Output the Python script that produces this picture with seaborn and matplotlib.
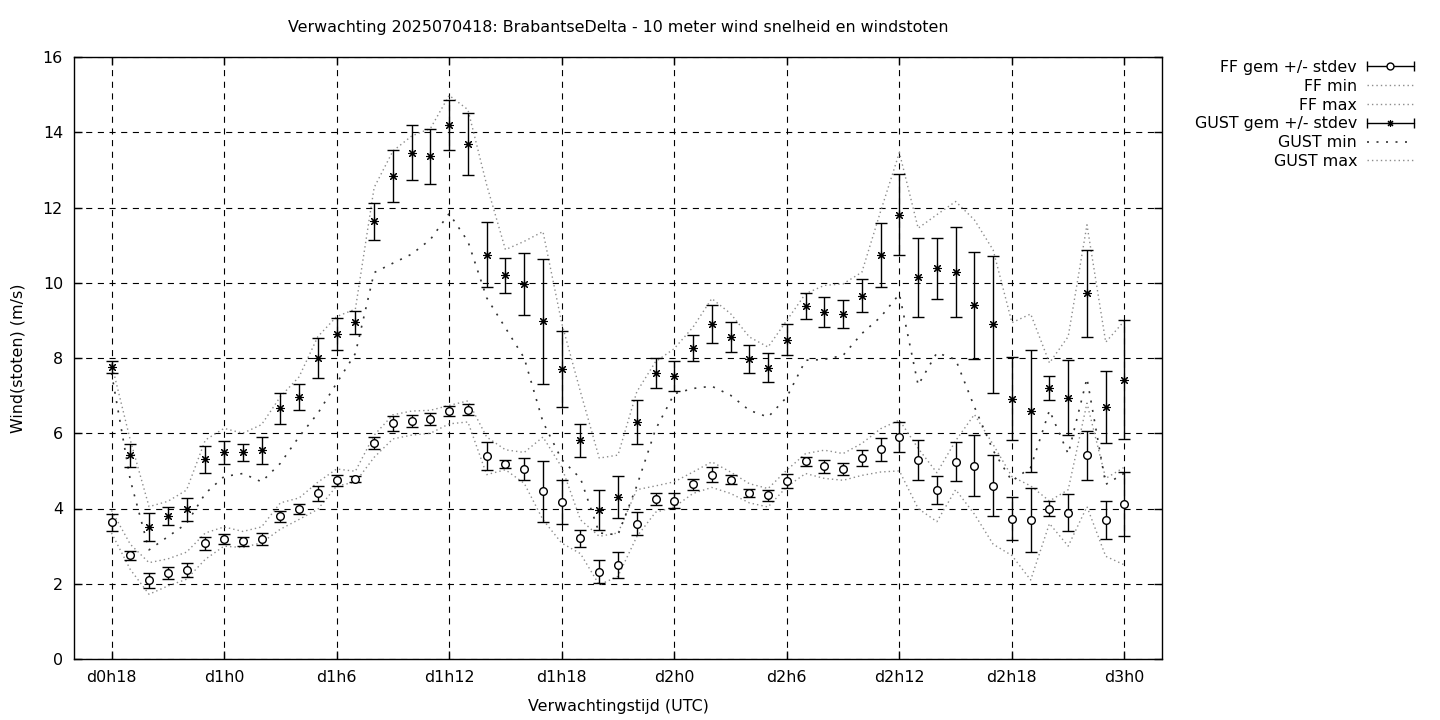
import numpy as np
import pandas as pd
import matplotlib
matplotlib.use("Agg")
import matplotlib.pyplot as plt
import seaborn as sns
from matplotlib.lines import Line2D
from matplotlib.legend_handler import HandlerLine2D

# forecast hours (hours since d0h0)
hours = [18, 19, 20, 21, 22, 23, 24, 25, 26, 27, 28, 29, 30, 31, 32, 33, 34, 35, 36,
         37, 38, 39, 40, 41, 42, 43, 44, 45, 46, 47, 48, 49, 50, 51, 52, 53, 54, 55,
         56, 57, 58, 59, 60, 61, 62, 63, 64, 65, 66, 67, 68, 69, 70, 71, 72]

ff_mean = [3.63, 2.76, 2.09, 2.28, 2.37, 3.07, 3.18, 3.13, 3.20, 3.79, 3.98, 4.40, 4.75, 4.78,
           5.74, 6.27, 6.33, 6.38, 6.59, 6.63, 5.39, 5.18, 5.05, 4.46, 4.18, 3.21, 2.32, 2.50,
           3.60, 4.25, 4.21, 4.64, 4.90, 4.77, 4.42, 4.35, 4.74, 5.25, 5.12, 5.06, 5.34, 5.57,
           5.90, 5.29, 4.50, 5.24, 5.14, 4.61, 3.73, 3.70, 4.00, 3.89, 5.41, 3.70, 4.13]
ff_std = [0.23, 0.12, 0.19, 0.16, 0.19, 0.18, 0.13, 0.12, 0.16, 0.14, 0.13, 0.20, 0.15, 0.08,
          0.15, 0.20, 0.16, 0.15, 0.14, 0.14, 0.37, 0.10, 0.28, 0.81, 0.58, 0.22, 0.31, 0.34,
          0.30, 0.16, 0.19, 0.14, 0.19, 0.12, 0.11, 0.14, 0.19, 0.12, 0.18, 0.16, 0.22, 0.31,
          0.41, 0.52, 0.37, 0.52, 0.81, 0.82, 0.57, 0.85, 0.21, 0.49, 0.66, 0.50, 0.85]
ff_min = [3.35, 2.38, 1.72, 1.94, 2.12, 2.65, 3.00, 2.96, 3.09, 3.45, 3.71, 3.98, 4.60, 4.70,
          5.36, 5.85, 5.95, 6.00, 6.25, 6.30, 4.90, 5.03, 4.67, 3.70, 3.08, 2.80, 1.97, 2.20,
          3.25, 3.90, 4.04, 4.40, 4.56, 4.40, 4.15, 4.04, 4.58, 4.93, 4.80, 4.75, 4.88, 4.97,
          5.00, 4.00, 3.65, 4.50, 3.85, 3.05, 2.75, 2.10, 3.60, 3.00, 4.05, 2.73, 2.50]
ff_max = [3.95, 3.05, 2.56, 2.66, 2.84, 3.35, 3.51, 3.39, 3.51, 4.15, 4.28, 4.70, 5.05, 4.99,
          5.95, 6.49, 6.59, 6.61, 6.74, 6.86, 5.90, 5.56, 5.49, 5.90, 5.10, 3.70, 3.26, 3.35,
          4.50, 4.60, 4.71, 4.97, 5.24, 4.97, 4.66, 4.53, 5.02, 5.46, 5.55, 5.46, 5.73, 6.12,
          6.35, 5.60, 4.95, 5.80, 6.50, 5.70, 4.85, 4.60, 4.20, 4.50, 6.80, 4.80, 5.10]

gust_mean = [7.75, 5.41, 3.50, 3.79, 3.98, 5.31, 5.49, 5.49, 5.55, 6.66, 6.96, 7.99, 8.64, 8.95,
             11.63, 12.84, 13.46, 13.36, 14.19, 13.68, 10.75, 10.20, 9.97, 8.98, 7.71, 5.81,
             3.97, 4.31, 6.30, 7.59, 7.52, 8.27, 8.90, 8.56, 7.98, 7.74, 8.49, 9.38, 9.23, 9.17,
             9.66, 10.74, 11.81, 10.14, 10.38, 10.28, 9.40, 8.90, 6.92, 6.60, 7.20, 6.95, 9.72,
             6.70, 7.42]
gust_std = [0.16, 0.31, 0.37, 0.24, 0.31, 0.36, 0.31, 0.23, 0.36, 0.41, 0.35, 0.53, 0.42, 0.30,
            0.50, 0.69, 0.73, 0.73, 0.66, 0.82, 0.87, 0.46, 0.82, 1.66, 1.01, 0.44, 0.53, 0.56,
            0.58, 0.40, 0.39, 0.35, 0.50, 0.41, 0.37, 0.39, 0.41, 0.35, 0.40, 0.38, 0.43, 0.86,
            1.08, 1.05, 0.81, 1.19, 1.42, 1.82, 1.10, 1.62, 0.31, 1.00, 1.16, 0.96, 1.58]
gust_min = [7.60, 4.76, 2.90, 3.25, 3.60, 4.40, 4.85, 4.93, 4.71, 5.20, 5.91, 6.53, 7.33, 8.12,
            10.27, 10.52, 10.76, 11.15, 11.84, 11.10, 9.60, 8.80, 8.00, 6.30, 5.30, 4.80, 3.35,
            3.30, 4.60, 6.10, 7.05, 7.19, 7.25, 7.01, 6.61, 6.43, 6.96, 7.94, 7.96, 8.07, 8.65,
            9.09, 9.70, 7.28, 8.14, 7.96, 6.70, 5.54, 4.73, 5.09, 6.61, 5.45, 7.46, 4.64, 4.94]
gust_max = [7.85, 5.82, 4.05, 4.19, 4.49, 5.82, 6.13, 6.00, 6.23, 6.97, 7.50, 8.57, 9.10, 9.30,
            12.53, 13.50, 13.90, 14.10, 14.98, 14.60, 12.60, 10.88, 11.10, 11.36, 8.93, 7.10,
            5.34, 5.42, 7.10, 7.90, 8.25, 8.82, 9.58, 9.18, 8.56, 8.29, 9.00, 9.71, 9.93, 9.97,
            10.28, 11.90, 13.46, 11.45, 11.81, 12.16, 11.67, 10.87, 8.94, 9.17, 7.87, 8.57,
            11.54, 8.42, 8.99]

tick_hours = [18, 24, 30, 36, 42, 48, 54, 60, 66, 72]
tick_labels = ["d0h18", "d1h0", "d1h6", "d1h12", "d1h18", "d2h0", "d2h6", "d2h12", "d2h18", "d3h0"]

df = pd.DataFrame({"hour": hours,
                   "ff_mean": ff_mean, "ff_std": ff_std, "ff_min": ff_min, "ff_max": ff_max,
                   "gust_mean": gust_mean, "gust_std": gust_std,
                   "gust_min": gust_min, "gust_max": gust_max})

sns.set_style("ticks")
plt.rcParams["font.family"] = ["DejaVu Sans"]
plt.rcParams["font.size"] = 11.4
for key in ["text.color", "axes.labelcolor", "xtick.color", "ytick.color", "axes.edgecolor"]:
    plt.rcParams[key] = "black"

fig = plt.figure(figsize=(14.4, 7.2), dpi=100)
ax = fig.add_axes([74 / 1440, 61 / 720, 1088 / 1440, 602 / 720])

fine_dot = (0, (1, 2.2))
coarse_dot = (0, (1.2, 4.5))
light = "#8c8c8c"

sns.lineplot(data=df, x="hour", y="ff_min", ax=ax, color=light, lw=1, linestyle=fine_dot)
sns.lineplot(data=df, x="hour", y="ff_max", ax=ax, color=light, lw=1, linestyle=fine_dot)
sns.lineplot(data=df, x="hour", y="gust_min", ax=ax, color="#333333", lw=1.2, linestyle=coarse_dot)
sns.lineplot(data=df, x="hour", y="gust_max", ax=ax, color=light, lw=1, linestyle=fine_dot)

ax.errorbar(df["hour"], df["ff_mean"], yerr=df["ff_std"], fmt="o", ms=5.5, mfc="white",
            mec="black", mew=1, ecolor="black", elinewidth=1, capsize=4, capthick=1, zorder=5)
star = (8, 2, 0)
ax.errorbar(df["hour"], df["gust_mean"], yerr=df["gust_std"], fmt="none", ecolor="black",
            elinewidth=1, capsize=4, capthick=1, zorder=5)
sns.scatterplot(data=df, x="hour", y="gust_mean", ax=ax, marker=star, s=32, color="black",
                linewidth=0.8, zorder=6)

ax.set_xlim(16, 74)
ax.set_ylim(0, 16)
ax.set_xticks(tick_hours)
ax.set_xticklabels(tick_labels)
ax.set_yticks(np.arange(0, 17, 2))
ax.grid(True, color="black", linestyle=(0, (5.5, 5)), linewidth=0.8)
ax.set_axisbelow(True)
ax.tick_params(direction="in", length=6, width=1, top=True, right=True, pad=8,
               labelsize=11.4, colors="black")
for s in ax.spines.values():
    s.set_visible(True)
    s.set_linewidth(1)
    s.set_color("black")

ax.set_xlabel("Verwachtingstijd (UTC)", fontsize=11.4, labelpad=10)
ax.set_ylabel("Wind(stoten) (m/s)", fontsize=11.4, labelpad=12)
ax.set_title("Verwachting 2025070418: BrabantseDelta - 10 meter wind snelheid en windstoten",
             fontsize=11.4, pad=18)

# legend in gnuplot style: right-aligned text, sample after it
ff_caps = Line2D([], [], color="black", lw=1, marker="|", ms=7, mew=1)
ff_dot = Line2D([], [], ls="none", marker="o", ms=5, mfc="white", mec="black", mew=1)
gust_caps = Line2D([], [], color="black", lw=1, marker="|", ms=7, mew=1)
gust_dot = Line2D([], [], ls="none", marker=star, ms=5, color="black", mew=0.8)
handles = [(ff_caps, ff_dot),
           Line2D([], [], color=light, lw=1, linestyle=fine_dot),
           Line2D([], [], color=light, lw=1, linestyle=fine_dot),
           (gust_caps, gust_dot),
           Line2D([], [], color="#333333", lw=1.2, linestyle=coarse_dot),
           Line2D([], [], color=light, lw=1, linestyle=fine_dot)]
labels = ["FF gem +/- stdev", "FF min", "FF max", "GUST gem +/- stdev", "GUST min", "GUST max"]
ax.legend(handles, labels, loc="upper right", bbox_to_anchor=(1422 / 1440, 1 - 52 / 720),
          bbox_transform=fig.transFigure, frameon=False, markerfirst=False, fontsize=11.4,
          handlelength=3.0, handletextpad=0.6, labelspacing=0.24, borderpad=0,
          handler_map={ff_caps: HandlerLine2D(numpoints=2, marker_pad=0),
                       gust_caps: HandlerLine2D(numpoints=2, marker_pad=0)})

fig.savefig("out.png", dpi=100)
